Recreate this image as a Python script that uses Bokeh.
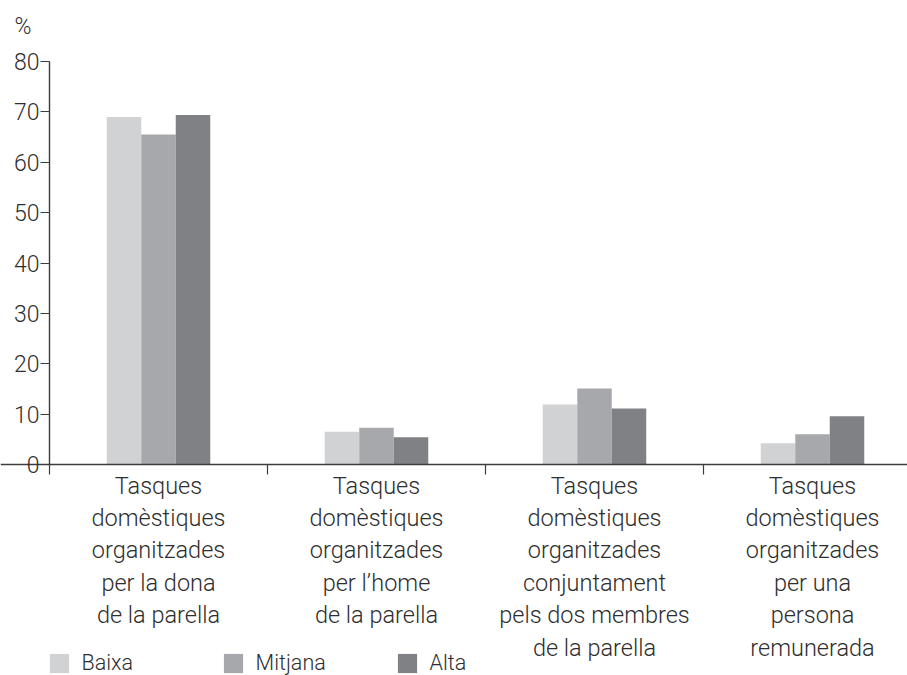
from bokeh.plotting import figure
from bokeh.models import Range1d, FixedTicker, LinearAxis, Label, Legend, LegendItem
from bokeh.embed import file_html
from bokeh.resources import INLINE

# ---- data ----
categories = [
    "Tasques\ndomèstiques\norganitzades\nper la dona\nde la parella",
    "Tasques\ndomèstiques\norganitzades\nper l\u2019home\nde la parella",
    "Tasques\ndomèstiques\norganitzades\nconjuntament\npels dos membres\nde la parella",
    "Tasques\ndomèstiques\norganitzades\nper una\npersona\nremunerada",
]
series_names = ["Baixa", "Mitjana", "Alta"]
baixa = [69.0, 6.5, 11.9, 4.2]
mitjana = [65.5, 7.3, 15.1, 6.0]
alta = [69.4, 5.4, 11.1, 9.6]
y_ticks = [0, 10, 20, 30, 40, 50, 60, 70, 80]
y_max = 80
y_unit = "%"

# ---- styling / layout ----
colors = ["#d1d2d4", "#a7a8ab", "#808184"]
FONT = "'Roboto Light', 'Liberation Sans'"
TXT = "#2e2e2e"
AX = "#3c3c3c"

W, H = 907, 675
AXIS_X_PX = 49           # pixel column of the y axis
TOP_PX = 61              # pixel row of y_max
ZERO_PX = 464            # pixel row of the value 0
cat_px = 218.0
px_per_unit = (ZERO_PX - TOP_PX) / y_max
n = len(categories)

p = figure(width=W, height=H, output_backend="svg", toolbar_location=None,
           x_range=Range1d(-AXIS_X_PX / cat_px, (W - AXIS_X_PX) / cat_px),
           y_range=Range1d(-(H - ZERO_PX) / px_per_unit, y_max + TOP_PX / px_per_unit),
           min_border=0, x_axis_location=None, y_axis_location=None)
p.outline_line_color = None
p.grid.visible = False
p.background_fill_color = "white"
p.border_fill_color = "white"

bw = 34.5 / cat_px
series = [baixa, mitjana, alta]
renderers = []
for j, (vals, col) in enumerate(zip(series, colors)):
    xs = [i + 0.5 + (j - 1) * bw for i in range(n)]
    r = p.vbar(x=xs, top=vals, bottom=0, width=bw, fill_color=col, line_color=None)
    renderers.append(r)

# y axis at x = 0
yax = LinearAxis(ticker=FixedTicker(ticks=y_ticks, minor_ticks=[]),
                 bounds=(0, y_max), fixed_location=0)
yax.axis_line_color = AX
yax.axis_line_width = 1.4
yax.major_tick_line_color = AX
yax.major_tick_line_width = 1.2
yax.major_tick_out = 9
yax.major_tick_in = 0
yax.minor_tick_line_color = None
yax.major_label_standoff = 1
yax.major_label_text_font = FONT
yax.major_label_text_font_size = "23px"
yax.major_label_text_color = TXT
p.add_layout(yax, "left")

# x axis at value 0
xax = LinearAxis(ticker=FixedTicker(ticks=[i + 0.5 for i in range(n)],
                                    minor_ticks=list(range(n))),
                 fixed_location=0)
xax.major_label_overrides = {i + 0.5: categories[i] for i in range(n)}
xax.axis_line_color = AX
xax.axis_line_width = 1.4
xax.major_tick_line_color = None
xax.major_tick_out = 0
xax.major_tick_in = 0
xax.minor_tick_line_color = AX
xax.minor_tick_line_width = 1.2
xax.minor_tick_out = 10
xax.minor_tick_in = 0
xax.major_label_standoff = -3
xax.major_label_text_font = FONT
xax.major_label_text_font_size = "23.5px"
xax.major_label_text_color = TXT
xax.major_label_text_line_height = 1.16
p.add_layout(xax, "below")

# unit label
p.add_layout(Label(x=14, y=H - 26, x_units="screen", y_units="screen", text=y_unit,
                   text_font=FONT, text_font_size="23px", text_color=TXT,
                   text_baseline="alphabetic"))

legend = Legend(items=[LegendItem(label=nm, renderers=[r]) for nm, r in zip(series_names, renderers)],
                orientation="horizontal", location=(AXIS_X_PX - 2.4, 0),
                glyph_width=24, glyph_height=24, label_standoff=11, label_width=139,
                spacing=0, padding=0, margin=0, border_line_color=None,
                background_fill_alpha=0, label_text_font=FONT,
                label_text_font_size="21.5px", label_text_color=TXT)
p.add_layout(legend, "center")

open("out.html", "w").write(file_html(p, INLINE))
